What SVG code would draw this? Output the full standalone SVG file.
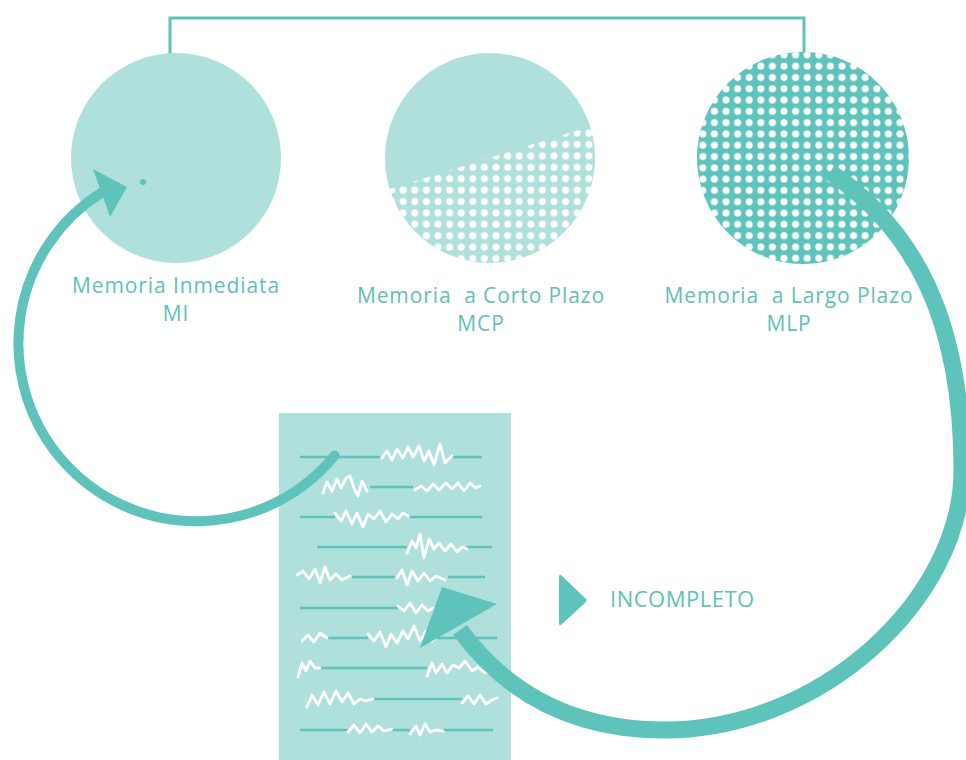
<svg xmlns="http://www.w3.org/2000/svg" width="966" height="760" viewBox="0 0 966 760">
  <style>
    .label { font-family: "Open Sans", "Liberation Sans", sans-serif; font-size: 21px; font-weight: 500; fill: #62c0b7; text-anchor: middle; letter-spacing: 0.9px; white-space: pre; }
    .tag { font-family: "Open Sans", "Liberation Sans", sans-serif; font-size: 22px; font-weight: 500; fill: #62c0b7; letter-spacing: 0.5px; }
    .light { fill: #b0e0dc; }
    .dark { fill: #5ec4bb; }
    .rule { stroke: #5ec4bb; stroke-width: 2.5; fill: none; }
    .scribble { stroke: #ffffff; stroke-width: 2.8; fill: none; stroke-linejoin: round; stroke-linecap: round; }
    .conn { stroke: #5ec4bb; fill: none; }
  </style>
  <defs>
    <pattern id="dotsLight" x="3" y="2" width="11.6" height="11.4" patternUnits="userSpaceOnUse">
      <circle cx="5.8" cy="5.7" r="3.5" fill="#ffffff"/>
    </pattern>
    <pattern id="dotsDark" x="1" y="4" width="11.6" height="11.3" patternUnits="userSpaceOnUse">
      <circle cx="5.8" cy="5.65" r="3.5" fill="#ffffff"/>
    </pattern>
    <clipPath id="clipMCP"><circle cx="490" cy="158" r="105"/></clipPath>
    <clipPath id="clipMLP"><circle cx="803" cy="158" r="106"/></clipPath>
  </defs>

  <rect width="966" height="760" fill="#ffffff"/>

  <!-- bracket linking MI and MLP -->
  <g id="connectors-top">
    <path class="conn" stroke-width="3" d="M170 56 V18 H804 V54"/>
  </g>

  <!-- immediate memory -->
  <g id="node-mi">
    <circle class="light" cx="176" cy="158" r="105"/>
    <circle class="dark" cx="143" cy="182" r="3"/>
    <text class="label" x="176" y="293">Memoria Inmediata</text>
    <text class="label" x="176" y="321">MI</text>
  </g>

  <!-- short-term memory: partly dotted -->
  <g id="node-mcp">
    <circle class="light" cx="490" cy="158" r="105"/>
    <polygon clip-path="url(#clipMCP)" fill="url(#dotsLight)" points="380,192 598,124 600,270 380,270"/>
    <text class="label" x="481" y="303">Memoria  a Corto Plazo</text>
    <text class="label" x="481" y="331">MCP</text>
  </g>

  <!-- long-term memory: fully dotted -->
  <g id="node-mlp">
    <circle class="dark" cx="803" cy="158" r="106"/>
    <rect clip-path="url(#clipMLP)" fill="url(#dotsDark)" x="690" y="45" width="230" height="230"/>
    <text class="label" x="789" y="303">Memoria  a Largo Plazo</text>
    <text class="label" x="789" y="331">MLP</text>
  </g>

  <!-- document with partly erased lines -->
  <g id="node-document">
    <rect class="light" x="279" y="413" width="232" height="347"/>
    <g>
      <path class="rule" d="M300 457H380 M452 457H482"/>
      <path class="rule" d="M370 487H413"/>
      <path class="rule" d="M300 517H335 M410 517H482"/>
      <path class="rule" d="M317 547H407 M467 547H492"/>
      <path class="rule" d="M352 577H395 M448 577H485"/>
      <path class="rule" d="M300 608H398"/>
      <path class="rule" d="M327 638H368 M437 638H497"/>
      <path class="rule" d="M320 668H427"/>
      <path class="rule" d="M373 699H462"/>
      <path class="rule" d="M300 730H348 M392 730H410 M443 730H493"/>
    </g>
    <g>
      <polyline class="scribble" points="382,458 387,451 392,460 397,449 403,458 408,447 413,457 419,446 424,461 429,451 434,465 440,444 445,463 452,456"/>
      <polyline class="scribble" points="323,493 327,482 332,491 337,479 341,488 346,478 350,476 354,488 358,496 362,481 367,491"/>
      <polyline class="scribble" points="415,490 421,486 427,491 433,484 439,490 446,483 452,489 458,483 464,491 470,483 476,488 480,486"/>
      <polyline class="scribble" points="335,513 341,521 346,511 352,524 357,513 363,527 368,514 374,519 380,511 386,522 392,514 398,519 403,513 408,516"/>
      <polyline class="scribble" points="407,553 412,541 416,548 420,534 424,558 429,539 434,549 439,543 445,551 451,544 457,552 462,547 467,549"/>
      <polyline class="scribble" points="297,575 303,571 309,579 315,569 320,583 325,567 330,580 336,574 342,580 350,576"/>
      <polyline class="scribble" points="397,578 402,570 407,585 412,571 418,581 424,573 430,581 436,576 445,580"/>
      <polyline class="scribble" points="398,606 404,611 410,603 416,613 422,605 428,611 433,608"/>
      <polyline class="scribble" points="302,641 308,635 314,642 320,633 327,638"/>
      <polyline class="scribble" points="368,634 374,641 380,632 386,647 391,634 397,643 403,631 408,639 414,626 420,641 426,631 432,641 437,636"/>
      <polyline class="scribble" points="298,677 302,663 306,671 310,661 315,668 320,668"/>
      <polyline class="scribble" points="427,676 432,663 436,673 442,664 447,673 453,665 459,668 465,661 472,671 478,667 485,673 492,669"/>
      <polyline class="scribble" points="307,707 312,695 318,705 324,692 330,704 336,691 342,702 348,693 354,704 360,699 366,701 373,699"/>
      <polyline class="scribble" points="462,703 468,696 474,704 480,695 486,704 492,700 497,698"/>
      <polyline class="scribble" points="348,732 354,725 360,733 366,724 372,732 378,726 384,731 392,729"/>
      <polyline class="scribble" points="410,734 416,726 420,735 425,724 430,732 436,730 443,731"/>
    </g>
  </g>

  <!-- legend -->
  <g id="legend-incompleto">
    <path class="dark" d="M559 577 Q559 573 562 576 L585 598 Q588 600 585 603 L562 624 Q559 627 559 623 Z"/>
    <text class="tag" x="610" y="607">INCOMPLETO</text>
  </g>

  <!-- loops -->
  <g id="connectors">
    <path class="conn" stroke-width="10" stroke-linecap="round" d="M334.5 455.6 A178 178 0 1 1 101 193"/>
    <polygon class="dark" points="93,169 127,187 110,217"/>
    <path class="conn" stroke-width="17" d="M830 172 C915 230 962 320 962 470 C962 600 820 730 665 730 C580 730 510 698 460 630"/>
    <polygon class="dark" points="442,587 497,604 420,648"/>
  </g>
</svg>
